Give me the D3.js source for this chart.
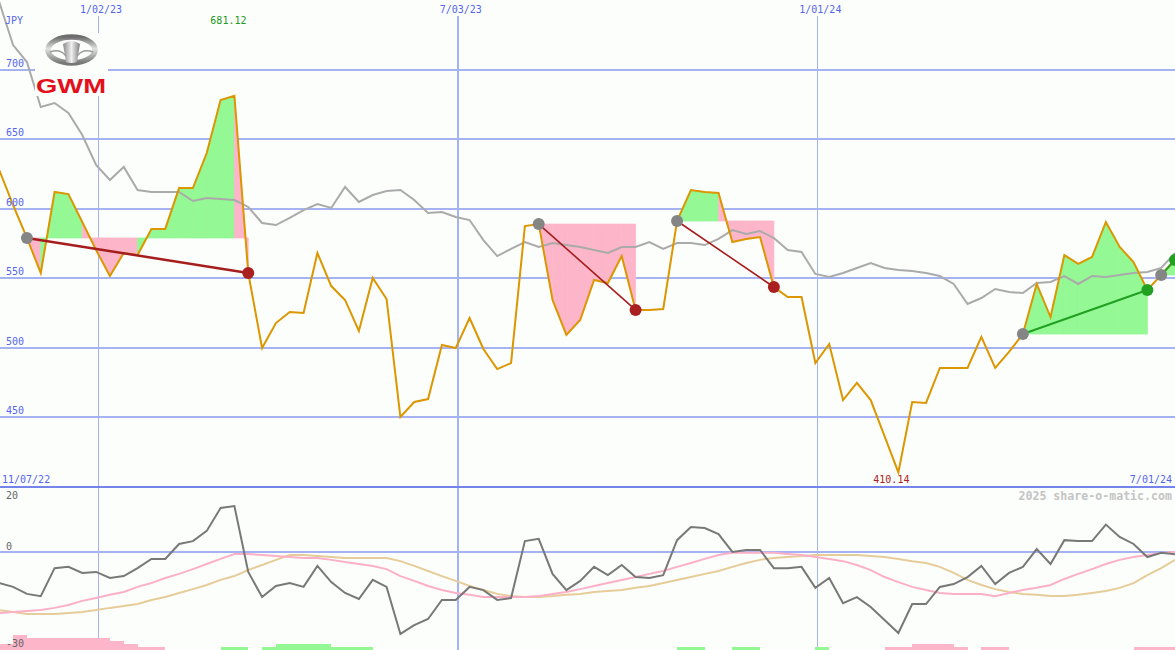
<!DOCTYPE html>
<html><head><meta charset="utf-8">
<script src="https://cdn.jsdelivr.net/npm/d3@7"></script>
<style>body{margin:0;background:#fcfefc;}svg{display:block}</style>
</head><body><svg id="c" width="1175" height="650"></svg>
<script>
// ---------- data ----------
const firstWeek = "2022-11-13";
const rangeStart = "2022-11-07";
const rangeEnd = "2024-07-01";
const currency = "JPY";
const price = [627.7,602.5,578.8,553.6,611.9,610.4,590.3,570.1,551.4,568.0,
566.5,585.3,585.3,614.7,614.7,639.9,678.1,681.12,553.6,499.6,
517.6,525.5,524.8,568.0,544.2,534.2,511.9,550.0,534.9,450.0,
460.8,462.9,501.8,499.6,521.2,498.9,484.5,488.8,587.4,588.8,
534.2,509.0,519.8,548.6,546.4,565.8,527.0,527.0,527.7,591.0,
613.3,611.9,611.2,575.9,578.1,579.5,543.5,536.3,536.3,488.8,
502.5,462.2,474.5,462.2,436.3,410.14,460.8,460.1,485.3,485.3,
485.3,507.6,485.3,496.8,509.7,545.7,521.9,566.5,560.1,565.1,
590.3,572.3,561.5,541.4,552.2,563.0];
const indexLine = [748.6,717.6,705.4,673.0,675.9,668.7,652.9,631.3,620.5,629.9,
613.3,611.9,611.9,611.9,605.4,607.6,606.8,606.1,601.1,589.6,
588.1,593.2,598.9,603.2,600.4,615.5,604.7,609.7,612.6,613.3,
606.1,596.8,597.5,593.9,591.7,577.3,565.8,570.9,575.9,572.3,
575.2,573.7,572.3,570.1,568.0,572.3,572.3,575.9,570.9,575.2,
575.2,573.7,578.1,584.5,581.7,583.8,578.8,570.1,568.7,552.9,
550.7,553.6,557.2,560.8,557.2,555.8,555.0,553.6,551.4,545.7,
531.3,535.6,542.1,539.9,539.2,546.4,547.1,551.4,545.7,551.4,
550.7,552.2,553.6,554.3,557.2,568.0];
const momentum = [-9.9,-11.1,-13.3,-14.0,-5.2,-4.8,-6.7,-6.4,-8.3,-7.7,
-5.2,-2.3,-2.3,2.4,3.3,6.5,13.7,14.3,-6.4,-14.3,
-10.8,-9.9,-11.1,-4.5,-9.6,-13.0,-14.9,-8.9,-11.1,-25.9,
-23.1,-21.2,-15.2,-15.2,-11.1,-12.1,-15.2,-14.6,3.3,4.0,
-7.0,-12.1,-9.2,-4.8,-7.4,-4.2,-8.0,-8.3,-7.4,3.6,
7.7,7.4,5.5,-0.1,0.5,0.5,-5.2,-5.2,-4.8,-11.4,
-8.3,-16.2,-14.3,-17.4,-21.5,-25.6,-16.5,-16.5,-11.1,-10.2,
-8.0,-4.5,-10.2,-6.7,-4.8,0.8,-3.9,3.6,3.3,3.3,
8.5,4.6,2.4,-1.7,-0.4,-0.8];
const fastAvg = [-19.3,-19.0,-18.7,-18.4,-17.7,-16.8,-15.5,-14.6,-13.6,-12.7,
-11.1,-9.9,-8.3,-7.0,-5.5,-3.9,-2.3,-0.75,-0.75,-1.1,
-1.4,-1.7,-2.0,-2.0,-2.6,-3.3,-3.9,-4.5,-5.5,-7.7,
-9.2,-10.8,-12.1,-13.0,-13.6,-14.3,-14.3,-14.3,-14.3,-14.0,
-13.3,-12.7,-11.8,-10.8,-9.9,-8.9,-8.0,-7.0,-6.1,-4.8,
-3.6,-2.3,-1.1,-0.4,-0.4,-0.4,-0.4,-0.75,-1.1,-1.7,
-2.3,-3.0,-4.2,-5.8,-8.0,-9.6,-11.1,-12.1,-13.0,-13.3,
-13.3,-13.3,-14.0,-13.0,-12.1,-11.4,-10.5,-8.6,-7.0,-5.5,
-3.9,-2.6,-1.7,-1.1,-0.4,-0.1];
const slowAvg = [-18.4,-19.0,-19.6,-19.6,-19.6,-19.3,-19.0,-18.4,-17.7,-17.1,
-16.5,-15.2,-14.3,-13.0,-11.8,-10.5,-8.9,-7.7,-5.8,-4.2,
-2.6,-1.1,-1.1,-1.4,-1.7,-2.0,-2.0,-2.0,-2.0,-3.0,
-4.5,-6.1,-7.7,-9.2,-10.8,-12.1,-13.3,-14.0,-14.3,-14.3,
-14.0,-13.6,-13.3,-12.7,-12.4,-12.1,-11.4,-10.8,-9.9,-8.9,
-8.0,-7.0,-6.1,-4.8,-3.6,-2.6,-2.0,-1.7,-1.4,-1.1,
-1.1,-1.1,-1.1,-1.4,-1.7,-2.3,-3.0,-3.6,-4.8,-6.7,
-8.9,-10.5,-11.8,-12.7,-13.3,-13.6,-14.0,-14.0,-13.6,-13.0,
-12.4,-11.4,-9.9,-7.4,-5.2,-2.6];
const signalBars = [-2,-5,-4,-4,-4,-4,-4,-4,-3,-2,
-1,-1,0,0,0,0,1,1,0,1,
2,2,2,2,1,1,1,0,0,0,
0,0,0,0,0,0,0,0,0,0,
0,0,0,0,0,0,0,0,0,1,
1,0,0,1,1,0,0,0,0,1,
0,0,0,0,-1,-1,-2,-2,-2,-1,
0,-1,-1,0,0,0,0,0,0,0,
0,0,-1,-1,-1,0];
const tradeEntries = [2,39,49,74,84];
const tradeExits = [18,46,56,83,85];
const priceTicks = [450,500,550,600,650,700];
const oscTicks = [20,0,-30];
const dateTicks = ["2023-01-02","2023-07-03","2024-01-01"];
const dateTickLabels = ["1/02/23","7/03/23","1/01/24"];
const startLabel = "11/07/22", endLabel = "7/01/24";
const credit = "2025 share-o-matic.com";

// ---------- setup ----------
const W = 1175, H = 650;
const svg = d3.select("#c");
const parse = d3.utcParse("%Y-%m-%d");
const t0 = parse(firstWeek);
const dates = price.map((_, k) => d3.utcDay.offset(t0, 7 * k));
const x = d3.scaleUtc().domain([parse(rangeStart), parse(rangeEnd)]).range([-12.6, 1177]);
const y = d3.scaleLinear().domain([450, 700]).range([417, 69.5]);
const yO = d3.scaleLinear().domain([-30, 20]).range([647, 488]);
const barH = d3.scaleLinear().domain([0, 1]).range([0, 3]);
const mainBottom = 487;

const BG = "#fcfefc", GRID = "#a6b3f3", LBL = "#5566ee";
const GREEN_FILL = "#94f894", PINK_FILL = "#fdb6c9";
const mono = "'DejaVu Sans Mono', monospace";

svg.append("rect").attr("width", W).attr("height", H).attr("fill", BG);
const defs = svg.append("defs");
defs.append("clipPath").attr("id", "clipMain").append("rect").attr("x", 0).attr("y", 0).attr("width", W).attr("height", mainBottom - 1);
defs.append("clipPath").attr("id", "clipLow").append("rect").attr("x", 0).attr("y", mainBottom + 1).attr("width", W).attr("height", H - mainBottom - 1);

// grid
const grid = svg.append("g").attr("shape-rendering", "crispEdges");
priceTicks.forEach(v => {
  grid.append("line").attr("x1", 0).attr("x2", W).attr("y1", Math.round(y(v))).attr("y2", Math.round(y(v)))
    .attr("stroke", GRID).attr("stroke-width", 2);
});
dateTicks.forEach((d, k) => {
  const xv = Math.round(x(parse(d)));
  grid.append("line").attr("x1", xv).attr("x2", xv).attr("y1", 16).attr("y2", H)
    .attr("stroke", GRID).attr("stroke-width", k === 1 ? 2 : 1);
});
grid.append("line").attr("x1", 0).attr("x2", W).attr("y1", Math.round(yO(0))).attr("y2", Math.round(yO(0)))
  .attr("stroke", GRID).attr("stroke-width", 2);

// main panel
const main = svg.append("g").attr("clip-path", "url(#clipMain)");
const px = k => x(dates[k]);
const lineGen = d3.line();

tradeEntries.forEach((e, t) => {
  const ex = tradeExits[t];
  const base = price[e];
  for (let k = e; k < ex; k++) {
    const col = price[k + 1] > base ? GREEN_FILL : PINK_FILL;
    const pts = [[px(k), y(base)], [px(k), y(price[k])], [px(k + 1), y(price[k + 1])], [px(k + 1), y(base)]];
    main.append("path").attr("d", lineGen(pts) + "Z")
      .attr("fill", col).attr("stroke", col).attr("stroke-width", 0.8);
  }
});

main.append("path").datum(indexLine)
  .attr("d", d3.line().x((d, k) => px(k)).y(d => y(d)))
  .attr("fill", "none").attr("stroke", "#aaaaaa").attr("stroke-width", 2);

main.append("path").datum(price)
  .attr("d", d3.line().x((d, k) => px(k)).y(d => y(d)))
  .attr("fill", "none").attr("stroke", "#dc9600").attr("stroke-width", 2);

tradeEntries.forEach((e, t) => {
  const ex = tradeExits[t];
  const gain = price[ex] > price[e];
  main.append("line").attr("x1", px(e)).attr("y1", y(price[e])).attr("x2", px(ex)).attr("y2", y(price[ex]))
    .attr("stroke", gain ? "#22a022" : "#a51d1d").attr("stroke-width", t === 0 ? 2.5 : (gain ? 2 : 1.6));
});
tradeEntries.forEach((e, t) => {
  const ex = tradeExits[t];
  const gain = price[ex] > price[e];
  main.append("circle").attr("cx", px(e)).attr("cy", y(price[e])).attr("r", 6).attr("fill", "#858585");
  main.append("circle").attr("cx", px(ex)).attr("cy", y(price[ex])).attr("r", 6).attr("fill", gain ? "#22a022" : "#aa2020");
});

// bottom border of main panel
svg.append("line").attr("x1", 0).attr("x2", W).attr("y1", mainBottom).attr("y2", mainBottom)
  .attr("stroke", "#7484ea").attr("stroke-width", 2).attr("shape-rendering", "crispEdges");

// labels
const txt = (s, xx, yy, fill, anchor, extra) => {
  const t = svg.append("text").attr("x", xx).attr("y", yy).text(s)
    .attr("font-family", mono).attr("font-size", 10).attr("fill", fill).attr("text-anchor", anchor || "start");
  if (extra) extra(t);
  return t;
};
txt(currency, 5, 24, LBL);
priceTicks.forEach(v => txt(String(v), 6, Math.round(y(v)) - 3, LBL));
dateTicks.forEach((d, k) => txt(dateTickLabels[k], x(parse(d)) + 3, 13, LBL, "middle"));
txt(startLabel, 2, 483, LBL);
txt(endLabel, 1172, 483, LBL, "end");
const iMax = d3.maxIndex(price), iMin = d3.minIndex(price);
txt(d3.format(".2f")(price[iMax]), px(iMax) - 6, 24, "#229922", "middle");
txt(d3.format(".2f")(price[iMin]), px(iMin) - 7, 483, "#aa2020", "middle");
txt(credit, 1172, 500, "#c4c4c4", "end", t => t.attr("font-weight", "bold").attr("font-size", 11.6));

// lower panel
const low = svg.append("g").attr("clip-path", "url(#clipLow)");
signalBars.forEach((v, k) => {
  if (!v || k + 1 >= dates.length) return;
  const x0 = px(k), x1 = px(k + 1);
  low.append("rect").attr("x", Math.round(x0)).attr("width", Math.round(x1) - Math.round(x0))
    .attr("y", H - barH(Math.abs(v))).attr("height", barH(Math.abs(v)))
    .attr("fill", v > 0 ? GREEN_FILL : PINK_FILL).attr("shape-rendering", "crispEdges");
});
const oLine = d3.line().x((d, k) => px(k)).y(d => yO(d));
low.append("path").datum(slowAvg).attr("d", oLine).attr("fill", "none").attr("stroke", "#e6cc98").attr("stroke-width", 2);
low.append("path").datum(fastAvg).attr("d", oLine).attr("fill", "none").attr("stroke", "#fcb0c8").attr("stroke-width", 2);
low.append("path").datum(momentum).attr("d", oLine).attr("fill", "none").attr("stroke", "#787878").attr("stroke-width", 2);

txt(String(oscTicks[0]), 6, yO(oscTicks[0]) + 11, "#666");
txt(String(oscTicks[1]), 6, yO(oscTicks[1]) - 2, "#666");
txt(String(oscTicks[2]), 6, yO(oscTicks[2]), "#666");

// logo
const logo = svg.append("g");
logo.append("rect").attr("x", 35).attr("y", 33).attr("width", 73).attr("height", 63).attr("fill", BG);
const g1 = defs.append("linearGradient").attr("id", "silver").attr("x1", 0).attr("y1", 0).attr("x2", 0).attr("y2", 1);
g1.append("stop").attr("offset", "0%").attr("stop-color", "#6d6d6d");
g1.append("stop").attr("offset", "45%").attr("stop-color", "#e2e2e2");
g1.append("stop").attr("offset", "100%").attr("stop-color", "#777");
const g2 = defs.append("linearGradient").attr("id", "silverH").attr("x1", 0).attr("y1", 0).attr("x2", 1).attr("y2", 0);
g2.append("stop").attr("offset", "0%").attr("stop-color", "#8a8a8a");
g2.append("stop").attr("offset", "50%").attr("stop-color", "#f0f0f0");
g2.append("stop").attr("offset", "100%").attr("stop-color", "#808080");
logo.append("ellipse").attr("cx", 71.5).attr("cy", 50).attr("rx", 23.5).attr("ry", 13)
  .attr("fill", "none").attr("stroke", "url(#silver)").attr("stroke-width", 5.5);
logo.append("path").attr("d", "M63,44 Q71.5,38 80,44 L77,62 Q71.5,64 66,62 Z").attr("fill", "url(#silverH)");
logo.append("path").attr("d", "M50,52 Q60,48 66,56 M93,52 Q83,48 77,56").attr("fill", "none").attr("stroke", "#9a9a9a").attr("stroke-width", 1.5);
logo.append("text").attr("x", 36).attr("y", 93).text("GWM")
  .attr("font-family", "'Liberation Sans', Arial, sans-serif").attr("font-weight", "bold").attr("font-size", 21)
  .attr("fill", "#e3101c").attr("textLength", 70).attr("lengthAdjust", "spacingAndGlyphs");
</script>
</body></html>
